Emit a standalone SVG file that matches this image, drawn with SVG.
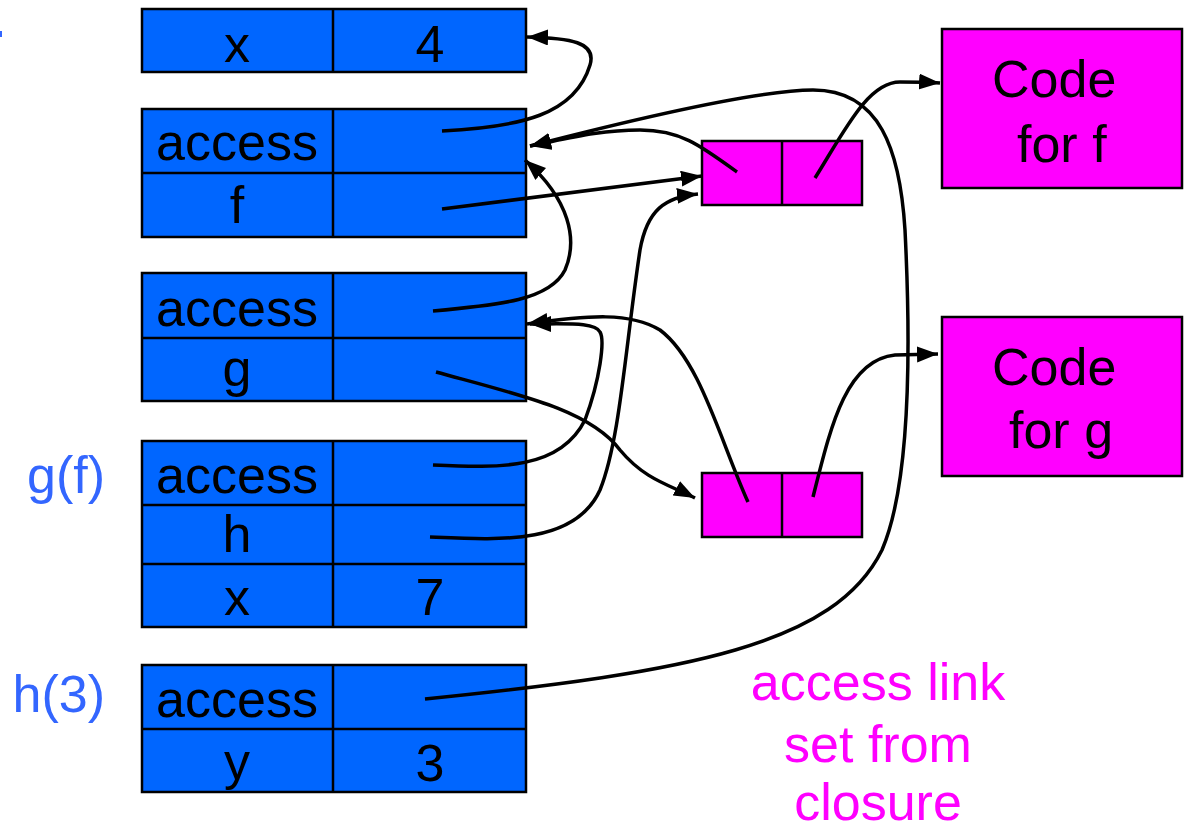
<svg xmlns="http://www.w3.org/2000/svg" width="1188" height="832" viewBox="0 0 1188 832">
<style>
.blue{fill:#0066ff;stroke:#000;stroke-width:2.5}
.pink{fill:#ff00ff;stroke:#000;stroke-width:2.5}
.div{stroke:#000;stroke-width:2.5}
.t{font-family:"Liberation Sans",Arial,sans-serif;font-size:52px;fill:#000;text-anchor:middle}
.lbl{font-family:"Liberation Sans",Arial,sans-serif;font-size:52px;fill:#3366ff;text-anchor:end}
.note{font-family:"Liberation Sans",Arial,sans-serif;font-size:52px;fill:#ff00ff;text-anchor:middle}
.c{fill:none;stroke:#000;stroke-width:3.5}
</style>
<defs>
<marker id="ah" markerUnits="userSpaceOnUse" markerWidth="22" markerHeight="17" refX="21" refY="8" orient="auto">
<path d="M0,0 L21,8 L0,16 z" fill="#000"/>
</marker>
</defs>
<rect x="0" y="31" width="2" height="6" fill="#3366ff"/>
<g id="frame-x">
<rect class="blue" x="142" y="9" width="384" height="63"/>
<line class="div" x1="333" y1="9" x2="333" y2="72"/>
<text class="t" x="237" y="62">x</text>
<text class="t" x="430" y="62">4</text>
</g>
<g id="frame-f">
<rect class="blue" x="142" y="109" width="384" height="128"/>
<line class="div" x1="333" y1="109" x2="333" y2="237"/>
<line class="div" x1="142" y1="173" x2="526" y2="173"/>
<text class="t" x="237" y="160">access</text>
<text class="t" x="237" y="223">f</text>
</g>
<g id="frame-g">
<rect class="blue" x="142" y="273" width="384" height="128"/>
<line class="div" x1="333" y1="273" x2="333" y2="401"/>
<line class="div" x1="142" y1="338" x2="526" y2="338"/>
<text class="t" x="237" y="326">access</text>
<text class="t" x="237" y="386">g</text>
</g>
<g id="frame-gf">
<rect class="blue" x="142" y="441" width="384" height="186"/>
<line class="div" x1="333" y1="441" x2="333" y2="627"/>
<line class="div" x1="142" y1="505" x2="526" y2="505"/>
<line class="div" x1="142" y1="564" x2="526" y2="564"/>
<text class="t" x="237" y="493">access</text>
<text class="t" x="237" y="552">h</text>
<text class="t" x="237" y="615">x</text>
<text class="t" x="430" y="615">7</text>
<text class="lbl" x="105" y="493">g(f)</text>
</g>
<g id="frame-h3">
<rect class="blue" x="142" y="665" width="384" height="127"/>
<line class="div" x1="333" y1="665" x2="333" y2="792"/>
<line class="div" x1="142" y1="729" x2="526" y2="729"/>
<text class="t" x="237" y="717">access</text>
<text class="t" x="237" y="779">y</text>
<text class="t" x="430" y="781">3</text>
<text class="lbl" x="105" y="712">h(3)</text>
</g>
<g id="closure-f">
<rect class="pink" x="702" y="141" width="160" height="64"/>
<line class="div" x1="782" y1="141" x2="782" y2="205"/>
</g>
<g id="closure-g">
<rect class="pink" x="702" y="473" width="160" height="64"/>
<line class="div" x1="782" y1="473" x2="782" y2="537"/>
</g>
<g id="code-f">
<rect class="pink" x="942" y="29" width="240" height="159"/>
<text class="t" x="992" y="97" style="text-anchor:start">Code</text>
<text class="t" x="1017" y="162" style="text-anchor:start">for f</text>
</g>
<g id="code-g">
<rect class="pink" x="942" y="317" width="240" height="159"/>
<text class="t" x="992" y="385" style="text-anchor:start">Code</text>
<text class="t" x="1009" y="448" style="text-anchor:start">for g</text>
</g>
<g id="note">
<text class="note" x="878" y="700">access link</text>
<text class="note" x="878" y="762">set from</text>
<text class="note" x="878" y="820">closure</text>
</g>
<g id="connectors">
<path class="c" marker-end="url(#ah)" d="M442,131 C520,127 575,115 590,65 C597,42 570,38 527,37"/>
<path class="c" marker-end="url(#ah)" d="M425,699 C690,672 835,645 882,550 C912,480 910,330 905,230 C900,150 880,90 813,90 C760,90 650,115 530,146"/>
<path class="c" marker-end="url(#ah)" d="M737,172 C700,145 680,130 640,130 C600,130 570,138 530,146"/>
<path class="c" marker-end="url(#ah)" d="M442,209 L702,176"/>
<path class="c" marker-end="url(#ah)" d="M815,178 C845,130 868,82 900,82 C915,82 925,82 940,83"/>
<path class="c" marker-end="url(#ah)" d="M433,311 C500,305 550,300 565,270 C578,240 570,200 525,160"/>
<path class="c" marker-end="url(#ah)" d="M436,372 C520,395 590,410 620,450 C645,480 670,485 695,498"/>
<path class="c" marker-end="url(#ah)" d="M748,502 C720,440 700,360 660,330 C630,312 590,315 527,324"/>
<path class="c" marker-end="url(#ah)" d="M433,465 C500,468 560,470 585,420 C600,380 605,340 600,332 C595,322 570,324 530,324"/>
<path class="c" marker-end="url(#ah)" d="M430,537 C500,540 575,545 600,490 C620,440 625,350 640,250 C647,210 665,197 698,194"/>
<path class="c" marker-end="url(#ah)" d="M813,497 C830,430 845,360 895,355 L938,354"/>
</g>
</svg>
